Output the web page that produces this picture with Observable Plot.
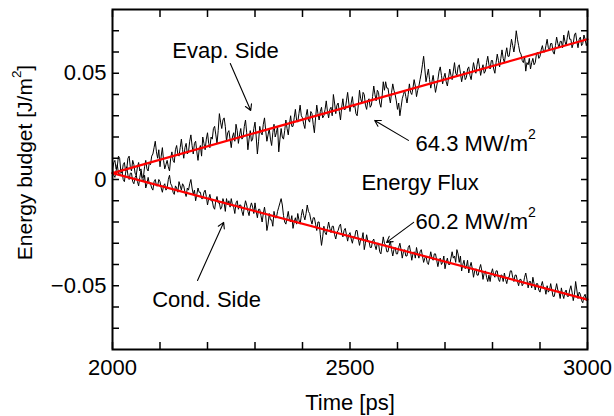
<!DOCTYPE html>
<html><head><meta charset="utf-8">
<script src="https://cdn.jsdelivr.net/npm/d3@7"></script>
<script src="https://cdn.jsdelivr.net/npm/@observablehq/plot@0.6"></script>
<style>html,body{margin:0;padding:0;background:#fff}svg{display:block}</style>
</head><body><div id="chart"></div>
<script>
// Sampling of the traces: time [ps]
const timeStart = 2000, timeStep = 2.5;
// Evaporation-side energy budget, in mJ/m^2
const evapSide = [
 4, 8, 9, 5, 6, 11, 10, 4, 3, 7,
 8, 4, 5, 10, 11, 6, 4, 9, 7, 3,
 2, 6, 8, 4, 5, 1, 1, 6, 9, 5,
 4, 8, 7, 11, 12, 15, 18, 13, 10, 14,
 6, 11, 15, 9, 5, 7, 9, 6, 4, 10,
 13, 9, 8, 14, 16, 12, 11, 15, 19, 14,
 10, 15, 17, 12, 13, 18, 21, 16, 12, 17,
 18, 13, 9, 14, 16, 11, 20, 17, 14, 19,
 22, 17, 15, 20, 19, 24, 25, 21, 17, 23,
 31, 27, 24, 28, 29, 25, 18, 22, 23, 19,
 15, 20, 22, 18, 26, 23, 17, 21, 24, 19,
 20, 25, 28, 22, 14, 19, 23, 18, 19, 24,
 27, 20, 12, 18, 25, 22, 21, 26, 29, 23,
 18, 21, 24, 19, 16, 22, 26, 20, 22, 25,
 13, 19, 24, 20, 19, 23, 28, 24, 21, 26,
 30, 25, 25, 29, 33, 28, 27, 31, 35, 30,
 29, 26, 24, 30, 33, 28, 27, 32, 31, 26,
 22, 29, 35, 31, 28, 32, 34, 29, 30, 33,
 37, 32, 29, 33, 34, 30, 40, 36, 31, 35,
 36, 32, 28, 34, 38, 33, 33, 37, 41, 36,
 32, 36, 39, 34, 35, 31, 30, 35, 42, 38,
 36, 41, 40, 35, 33, 37, 38, 34, 35, 39,
 44, 40, 37, 42, 41, 36, 34, 39, 46, 42,
 46, 43, 43, 39, 36, 41, 45, 42, 40, 37,
 33, 36, 30, 34, 38, 40, 42, 39, 36, 40,
 45, 41, 40, 43, 47, 44, 39, 42, 44, 47,
 50, 54, 58, 52, 46, 49, 52, 47, 43, 46,
 49, 45, 41, 44, 47, 51, 53, 49, 45, 48,
 50, 46, 44, 48, 52, 49, 47, 51, 55, 50,
 49, 53, 54, 50, 46, 49, 51, 47, 48, 52,
 53, 49, 47, 51, 55, 52, 50, 54, 57, 53,
 49, 52, 54, 50, 51, 55, 58, 54, 52, 56,
 56, 52, 50, 55, 59, 56, 53, 57, 61, 57,
 55, 59, 62, 58, 58, 62, 66, 63, 60, 64,
 70, 66, 63, 60, 59, 56, 55, 58, 51, 55,
 54, 57, 52, 55, 57, 54, 55, 59, 60, 57,
 58, 61, 63, 60, 60, 63, 66, 62, 61, 64,
 64, 60, 59, 63, 67, 64, 62, 65, 65, 62,
 68, 65, 63, 67, 70, 66, 66, 62, 64, 68,
 69, 65, 62, 66, 67, 63, 64, 68, 66, 63,
 65];
// Condensation-side energy budget, in mJ/m^2
const condSide = [
 5, 2, 1, 4, 7, 3, 2, 5, 4, 0,
 -1, 3, 6, 2, 0, 3, 3, -1, -2, 1,
 2, -1, -3, 1, 4, 0, -1, 2, -4, -2,
 1, -2, -2, -4, -5, -1, 0, -3, -3, 0,
 -1, -4, -6, -3, -2, -5, -4, 0, 2, -2,
 -3, -6, -7, -3, -4, -6, -1, -3, -5, -2,
 -3, -6, -8, -4, -5, -2, 0, -4, -7, -5,
 -10, -7, -4, -6, -6, -9, -9, -6, -5, -8,
 -12, -9, -7, -10, -10, -13, -14, -10, -8, -11,
 -11, -14, -13, -9, -11, -15, -9, -12, -10, -13,
 -9, -12, -13, -16, -11, -10, -14, -12, -12, -15,
 -17, -13, -10, -12, -15, -17, -13, -11, -13, -16,
 -11, -15, -18, -14, -14, -17, -20, -16, -13, -17,
 -24, -21, -16, -19, -19, -22, -15, -18, -18, -15,
 -13, -11, -9, -12, -17, -20, -21, -18, -15, -19,
 -20, -17, -23, -20, -18, -21, -16, -19, -21, -17,
 -14, -17, -19, -16, -12, -15, -16, -19, -21, -18,
 -18, -21, -24, -20, -20, -26, -31, -27, -22, -25,
 -26, -23, -20, -23, -25, -22, -22, -26, -28, -25,
 -24, -22, -21, -25, -27, -24, -23, -26, -29, -26,
 -25, -28, -30, -27, -27, -24, -24, -28, -31, -28,
 -28, -25, -33, -30, -26, -29, -29, -32, -32, -29,
 -28, -31, -33, -30, -30, -34, -35, -31, -27, -30,
 -31, -34, -34, -31, -29, -33, -36, -33, -32, -35,
 -35, -32, -30, -33, -37, -34, -33, -36, -36, -32,
 -31, -34, -38, -35, -34, -37, -32, -35, -37, -34,
 -33, -36, -39, -37, -36, -39, -40, -37, -34, -37,
 -38, -35, -35, -38, -41, -38, -37, -40, -39, -36,
 -42, -39, -37, -40, -40, -37, -34, -37, -36, -39,
 -33, -35, -39, -36, -43, -40, -38, -42, -41, -38,
 -44, -41, -39, -42, -46, -43, -42, -45, -45, -42,
 -40, -43, -47, -44, -43, -46, -48, -45, -48, -44,
 -42, -45, -46, -43, -43, -47, -48, -45, -45, -48,
 -44, -47, -49, -46, -46, -43, -43, -46, -48, -45,
 -45, -48, -50, -47, -47, -50, -49, -46, -44, -47,
 -51, -48, -48, -51, -46, -49, -52, -49, -49, -52,
 -53, -50, -48, -51, -51, -54, -50, -53, -52, -49,
 -52, -55, -55, -52, -49, -52, -53, -56, -51, -54,
 -56, -53, -52, -55, -55, -52, -50, -53, -57, -54,
 -48, -52, -56, -53, -54, -57, -58, -55, -54, -57,
 -55];
// Linear fits (J/m^2)
const evapFitTime = [2000, 3000], evapFitValue = [0.003, 0.066];
const condFitTime = [2000, 3000], condFitValue = [0.003, -0.0565];
// Ticks
const xMajorTicks = [2000, 2500, 3000];
const xMinorTicks = [2100, 2200, 2300, 2400, 2600, 2700, 2800, 2900];
const yMajorTicks = [-0.05, 0, 0.05];
const yMinorTicks = [-0.07, -0.06, -0.04, -0.03, -0.02, -0.01, 0.01, 0.02, 0.03, 0.04, 0.06, 0.07];
// Annotations (data coordinates)
const noteCenterText = ["Evap. Side", "Cond. Side"];
const noteCenterTime = [2238, 2198];
const noteCenterValue = [0.0607, -0.0569];
const noteStartText = ["64.3 MW/m²", "Energy Flux", "60.2 MW/m²"];
const noteStartTime = [2638, 2524, 2638];
const noteStartValue = [0.0169, -0.0014, -0.0202];
const arrowFromTime = [2248, 2623, 2634, 2179];
const arrowFromValue = [0.0546, 0.0184, -0.0202, -0.0475];
const arrowToTime = [2291, 2552, 2577, 2234];
const arrowToValue = [0.0325, 0.0278, -0.0296, -0.0202];

const toRows = arr => arr.map((v, i) => ({t: timeStart + i * timeStep, v: v / 1000}));
const evapRows = toRows(evapSide), condRows = toRows(condSide);
const fitRows = (T, V, s) => T.map((t, i) => ({t, v: V[i], s}));
const fits = [...fitRows(evapFitTime, evapFitValue, "evap"), ...fitRows(condFitTime, condFitValue, "cond")];
const centerNotes = noteCenterText.map((text, i) => ({text, t: noteCenterTime[i], v: noteCenterValue[i]}));
const startNotes = noteStartText.map((text, i) => ({text, t: noteStartTime[i], v: noteStartValue[i]}));
const arrows = arrowFromTime.map((t, i) => ({t1: t, v1: arrowFromValue[i], t2: arrowToTime[i], v2: arrowToValue[i]}));

const yFmt = d => d === 0 ? "0" : (d < 0 ? "\u2212" : "") + Math.abs(d).toFixed(2);
const blank = () => "";
const TS = -7;

const chart = Plot.plot({
  width: 614, height: 416,
  marginLeft: 112, marginRight: 27, marginTop: 9, marginBottom: 67,
  style: {fontFamily: "'Liberation Sans', Arial, Helvetica, sans-serif", fontSize: "22px", color: "black", background: "white"},
  x: {domain: [2000, 3000]},
  y: {domain: [-0.08, 0.08]},
  marks: [
    Plot.line(evapRows, {x: "t", y: "v", stroke: "black", strokeWidth: 1}),
    Plot.line(condRows, {x: "t", y: "v", stroke: "black", strokeWidth: 1}),
    Plot.line(fits, {x: "t", y: "v", z: "s", stroke: "#ff0000", strokeWidth: 2.2}),
    Plot.arrow(arrows, {x1: "t1", y1: "v1", x2: "t2", y2: "v2", stroke: "black", strokeWidth: 1.1, headLength: 9}),
    Plot.text(centerNotes, {x: "t", y: "v", text: "text", textAnchor: "middle", fill: "black"}),
    Plot.text(startNotes, {x: "t", y: "v", text: "text", textAnchor: "start", fill: "black"}),
    Plot.axisX(xMajorTicks, {anchor: "bottom", tickSize: TS, tickPadding: 17, tickFormat: d => String(d), label: null, strokeWidth: 1.5}),
    Plot.axisX(xMinorTicks, {anchor: "bottom", tickSize: TS, tickFormat: blank, label: null, strokeWidth: 1.5}),
    Plot.axisX([...xMajorTicks, ...xMinorTicks], {anchor: "top", tickSize: TS, tickFormat: blank, label: null, strokeWidth: 1.5}),
    Plot.axisY(yMajorTicks, {anchor: "left", tickSize: TS, tickPadding: 13, tickFormat: yFmt, label: null, strokeWidth: 1.5}),
    Plot.axisY(yMinorTicks, {anchor: "left", tickSize: TS, tickFormat: blank, label: null, strokeWidth: 1.5}),
    Plot.axisY([...yMajorTicks, ...yMinorTicks], {anchor: "right", tickSize: TS, tickFormat: blank, label: null, strokeWidth: 1.5}),
    Plot.text(["Time [ps]"], {frameAnchor: "bottom", dy: 53, textAnchor: "middle", lineAnchor: "middle", fill: "black"}),
    Plot.text(["Energy budget [J/m²]"], {frameAnchor: "left", dx: -87, dy: -17, rotate: -90, textAnchor: "middle", lineAnchor: "middle", fontSize: 21, fill: "black"}),
    Plot.frame({stroke: "black", strokeWidth: 2})
  ]
});
// Render the "²" as a raised superscript, as in the original figure
d3.select(chart).selectAll("text").each(function () {
  const s = this.textContent;
  if (this.children.length === 0 && s.includes("²")) {
    const [pre, post] = s.split("²");
    const el = d3.select(this);
    el.text(pre);
    el.append("tspan").attr("dy", "-0.86em").attr("font-size", "64%").text("2");
    if (post) el.append("tspan").attr("dy", "0.55em").text(post);
  }
});
document.getElementById("chart").append(chart);
</script>
</body></html>
